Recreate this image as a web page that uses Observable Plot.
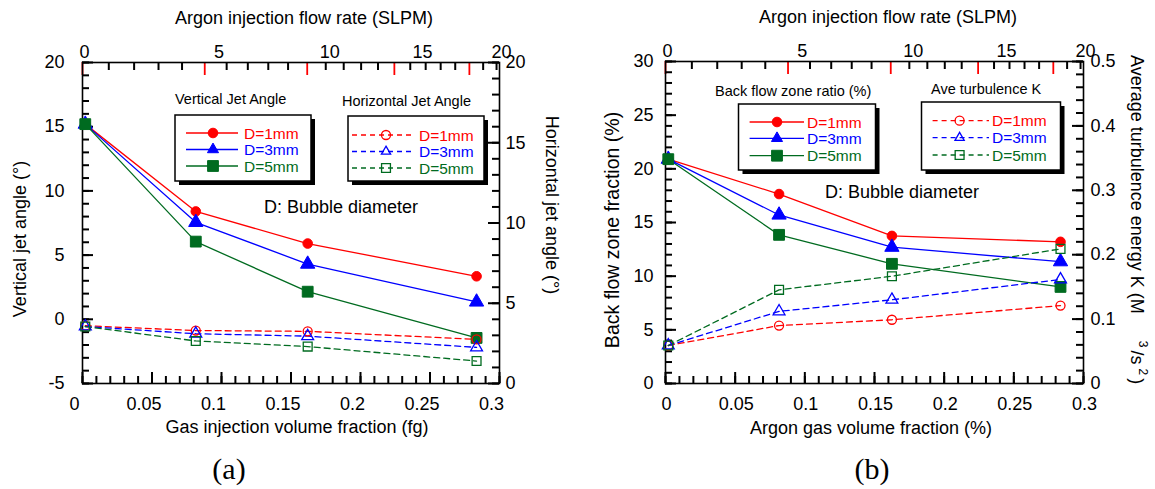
<!DOCTYPE html>
<html><head><meta charset="utf-8">
<script src="https://cdn.jsdelivr.net/npm/d3@7"></script>
<script src="https://cdn.jsdelivr.net/npm/@observablehq/plot@0.6"></script>
<style>
body{margin:0;background:#fff;width:1155px;height:489px;overflow:hidden;position:relative}
.panel{position:absolute;top:0}
svg{overflow:visible}
</style></head><body>
<div id="pa" class="panel" style="left:0px"></div>
<div id="pb" class="panel" style="left:577px"></div>
<script>
// ---------------- data ----------------
const seriesNames = ["D=1mm", "D=3mm", "D=5mm"];

// panel (a)
const fracA = [0.002, 0.0815, 0.162, 0.2835];
const vertD1 = [15.2, 8.4, 5.9, 3.35];
const vertD3 = [15.2, 7.55, 4.3, 1.35];
const vertD5 = [15.2, 6.05, 2.15, -1.45];
const horzD1 = [3.6, 3.3, 3.25, 2.75];
const horzD3 = [3.55, 3.1, 2.95, 2.25];
const horzD5 = [3.55, 2.65, 2.3, 1.4];

// panel (b)
const fracB = [0.002, 0.0815, 0.1625, 0.2835];
const backD1 = [20.9, 17.65, 13.75, 13.2];
const backD3 = [20.9, 15.7, 12.7, 11.35];
const backD5 = [20.9, 13.85, 11.15, 9.0];
const turbD1 = [0.059, 0.090, 0.099, 0.121];
const turbD3 = [0.059, 0.112, 0.130, 0.1615];
const turbD5 = [0.059, 0.1455, 0.1665, 0.209];

// tick labels
const fracTicks = [0, 0.05, 0.1, 0.15, 0.2, 0.25, 0.3];
const flowLabels = [0, 5, 10, 15, 20];
const flowRedTicks = [0, 4.5, 9, 13.5, 18];
const vertTicks = [-5, 0, 5, 10, 15, 20];
const horzTicks = [0, 5, 10, 15, 20];
const backTicks = [0, 5, 10, 15, 20, 25, 30];
const turbTicks = [0, 0.1, 0.2, 0.3, 0.4, 0.5];

// ---------------- style ----------------
const FONT = "'Liberation Sans', Arial, Helvetica, sans-serif";
const GREEN = "#006b20";
const colors = ["#ff0000", "#0000ff", GREEN];
const plotSymbols = ["circle", "triangle", "square"];
const d3Symbols = [d3.symbolCircle, d3.symbolTriangle2, d3.symbolSquare];
const rFilled = [4.8, 5.3, 6.1];
const rOpen = [4.5, 4.4, 5.0];

// top axis: argon flow rate (SLPM) -> gas volume fraction
const flowToFrac = q => q / (q + 46.67);
const flowMinor = d3.range(1, 23).filter(i => i % 5 !== 0).map(i => i * 0.9);
const xMinor = d3.range(0, 31).map(i => i / 100);

function rows(xs, ys) { return xs.map((x, i) => ({x, y: ys[i]})); }

// tick lengths given in pixels, converted to data units of the plot's scales
function axisMarks(cfg) {
  const m = [];
  const [y0, y1] = cfg.yDomain;
  const dy = (y1 - y0) / cfg.plotH;
  const dx = 0.3 / cfg.plotW;
  const tickStyle = {stroke: "black", strokeWidth: 2};
  m.push(Plot.ruleX(xMinor, {y1: y0, y2: y0 + 7 * dy, ...tickStyle}));
  m.push(Plot.ruleX(fracTicks, {y1: y0, y2: y0 + 11 * dy, ...tickStyle}));
  m.push(Plot.ruleX(flowMinor.map(flowToFrac), {y1: y1, y2: y1 - 8 * dy, ...tickStyle}));
  m.push(Plot.ruleX(flowRedTicks.map(flowToFrac), {y1: y1, y2: y1 - 13 * dy, stroke: "#ff0000", strokeWidth: 1.8}));
  m.push(Plot.ruleY(cfg.leftMinor, {x1: 0, x2: 7 * dx, ...tickStyle}));
  m.push(Plot.ruleY(cfg.leftTicks, {x1: 0, x2: 11 * dx, ...tickStyle}));
  m.push(Plot.ruleY(cfg.rightMinor.map(cfg.toLeft), {x1: 0.3, x2: 0.3 - 7 * dx, ...tickStyle}));
  m.push(Plot.ruleY(cfg.rightTicks.map(cfg.toLeft), {x1: 0.3, x2: 0.3 - 11 * dx, ...tickStyle}));
  m.push(Plot.axisX(fracTicks, {anchor: "bottom", tickSize: 0, tickPadding: 14.2, tickFormat: d => String(d), label: null, dx: cfg.bottomDx, fontSize: 18}));
  const topMap = new Map(flowLabels.map(q => [flowToFrac(q), String(q)]));
  m.push(Plot.axisX([...topMap.keys()], {anchor: "top", tickSize: 0, tickPadding: 5, tickFormat: d => topMap.get(d), label: null, dx: 2, fontSize: 18}));
  m.push(Plot.axisY(cfg.leftTicks, {anchor: "left", tickSize: 0, tickPadding: cfg.leftPad, tickFormat: d => String(d), label: null, fontSize: 18}));
  const rMap = new Map(cfg.rightTicks.map(v => [cfg.toLeft(v), String(v)]));
  m.push(Plot.axisY([...rMap.keys()], {anchor: "right", tickSize: 0, tickPadding: cfg.rightPad, tickFormat: d => rMap.get(d), label: null, fontSize: 18}));
  m.push(Plot.frame({stroke: "black", strokeWidth: 1.6}));
  return m;
}

function seriesMarks(xs, solid, dashed, toLeft) {
  const m = [];
  solid.forEach((ys, i) => {
    m.push(Plot.line(rows(xs, ys), {x: "x", y: "y", stroke: colors[i], strokeWidth: 1.3}));
  });
  dashed.forEach((ys, i) => {
    m.push(Plot.line(rows(xs, ys), {x: "x", y: d => toLeft(d.y), stroke: colors[i], strokeWidth: 1.3, strokeDasharray: "6,4"}));
  });
  solid.forEach((ys, i) => {
    m.push(Plot.dot(rows(xs, ys), {x: "x", y: "y", symbol: plotSymbols[i], r: rFilled[i], fill: colors[i], stroke: colors[i], strokeWidth: 1}));
  });
  dashed.forEach((ys, i) => {
    m.push(Plot.dot(rows(xs, ys), {x: "x", y: d => toLeft(d.y), symbol: plotSymbols[i], r: rOpen[i], fill: "none", stroke: colors[i], strokeWidth: 1.3}));
  });
  return m;
}

function addText(g, x, y, txt, opts = {}) {
  const t = g.append("text").attr("x", x).attr("y", y).text(txt)
    .attr("font-size", opts.size || 18).attr("fill", opts.fill || "black")
    .attr("text-anchor", opts.anchor || "start").attr("font-family", opts.family || FONT);
  if (opts.rotate) t.attr("transform", `rotate(${opts.rotate},${x},${y})`);
  return t;
}

function addLegend(g, L) {
  addText(g, L.titleX, L.titleY, L.title, {size: 14.5});
  const [bx, by, bw, bh] = L.box;
  g.append("rect").attr("x", bx + 4).attr("y", by + 4).attr("width", bw).attr("height", bh).attr("fill", "black");
  g.append("rect").attr("x", bx).attr("y", by).attr("width", bw).attr("height", bh).attr("fill", "white").attr("stroke", "black").attr("stroke-width", 1.5);
  seriesNames.forEach((name, i) => {
    const y = L.rows[i];
    g.append("line").attr("x1", L.line[0]).attr("x2", L.line[1]).attr("y1", y).attr("y2", y)
      .attr("stroke", colors[i]).attr("stroke-width", 1.3).attr("stroke-dasharray", L.dashed ? "5,4" : null);
    const r = L.dashed ? rOpen[i] : rFilled[i];
    g.append("path").attr("transform", `translate(${L.mark},${y})`)
      .attr("d", d3.symbol(d3Symbols[i], Math.PI * r * r)())
      .attr("fill", L.dashed ? "none" : colors[i]).attr("stroke", colors[i]).attr("stroke-width", L.dashed ? 1.3 : 1);
    addText(g, L.textX, y + 5.5, name, {size: 15.5, fill: colors[i]});
  });
}

// ---------------- panel (a) ----------------
const toLeftA = v => -5 + v * 1.25;
const cfgA = {
  bottomDx: -8, yDomain: [-5, 20], plotW: 417, plotH: 321,
  leftTicks: vertTicks, leftMinor: d3.range(-5, 21), leftPad: 18,
  rightTicks: horzTicks, rightMinor: d3.range(0, 21), rightPad: 6, toLeft: toLeftA
};
const svgA = Plot.plot({
  width: 577, height: 489,
  marginLeft: 82, marginRight: 78, marginTop: 62, marginBottom: 106,
  x: {domain: [0, 0.3]},
  y: {domain: [-5, 20]},
  style: {fontFamily: FONT, fontSize: "18px", color: "black", background: "white"},
  marks: [
    ...axisMarks(cfgA),
    ...seriesMarks(fracA, [vertD1, vertD3, vertD5], [horzD1, horzD3, horzD5], toLeftA)
  ]
});
document.getElementById("pa").appendChild(svgA);
{
  const g = d3.select(svgA).append("g");
  addText(g, 304, 24, "Argon injection flow rate (SLPM)", {anchor: "middle"});
  addText(g, 297, 433, "Gas injection volume fraction (fg)", {anchor: "middle"});
  addText(g, 26, 239, "Vertical jet angle (°)", {anchor: "middle", rotate: -90});
  addText(g, 546, 205, "Horizontal jet angle (°)", {anchor: "middle", rotate: 90});
  addText(g, 229, 479, "(a)", {anchor: "middle", size: 30, family: "'Liberation Serif', 'Times New Roman', serif"});
  addText(g, 264, 212.5, "D: Bubble diameter");
  addLegend(g, {title: "Vertical Jet Angle", titleX: 175, titleY: 104, box: [175, 115, 136, 66],
    rows: [133, 149.5, 166], line: [186, 238], mark: 213, textX: 244, dashed: false});
  addLegend(g, {title: "Horizontal Jet Angle", titleX: 342, titleY: 105.5, box: [348, 116, 136, 65],
    rows: [135, 151.5, 168], line: [352, 412], mark: 386, textX: 419, dashed: true});
}

// ---------------- panel (b) ----------------
const toLeftB = v => v * 60;
const cfgB = {
  bottomDx: 1, yDomain: [0, 30], plotW: 418, plotH: 322,
  leftTicks: backTicks, leftMinor: d3.range(0, 31), leftPad: 12,
  rightTicks: turbTicks, rightMinor: d3.range(0, 26).map(i => i / 50), rightPad: 7, toLeft: toLeftB
};
const svgB = Plot.plot({
  width: 578, height: 489,
  marginLeft: 88, marginRight: 72, marginTop: 61, marginBottom: 106,
  x: {domain: [0, 0.3]},
  y: {domain: [0, 30]},
  style: {fontFamily: FONT, fontSize: "18px", color: "black", background: "white"},
  marks: [
    ...axisMarks(cfgB),
    ...seriesMarks(fracB, [backD1, backD3, backD5], [turbD1, turbD3, turbD5], toLeftB)
  ]
});
document.getElementById("pb").appendChild(svgB);
{
  const o = 577;
  const g = d3.select(svgB).append("g");
  addText(g, 888 - o, 23, "Argon injection flow rate (SLPM)", {anchor: "middle"});
  addText(g, 871 - o, 434, "Argon gas volume fraction (%)", {anchor: "middle"});
  addText(g, 619 - o, 230, "Back flow zone fraction (%)", {anchor: "middle", rotate: -90, size: 19.5});
  const t = addText(g, 1131 - o, 55, "Average turbulence energy K (M", {rotate: 90});
  t.append("tspan").attr("dx", 27).attr("dy", -8).attr("font-size", 12).text("3");
  t.append("tspan").attr("dx", 3).attr("dy", 8).text("/s");
  t.append("tspan").attr("dx", 4).attr("dy", -8).attr("font-size", 12).text("2");
  t.append("tspan").attr("dx", 3).attr("dy", 8).text(")");
  addText(g, 872 - o, 479, "(b)", {anchor: "middle", size: 30, family: "'Liberation Serif', 'Times New Roman', serif"});
  addText(g, 825 - o, 197.5, "D: Bubble diameter");
  addLegend(g, {title: "Back flow zone ratio (%)", titleX: 715 - o, titleY: 96, box: [738.5 - o, 104, 137, 66],
    rows: [122, 138.3, 155.7], line: [749.6 - o, 804 - o], mark: 777 - o, textX: 807 - o, dashed: false});
  addLegend(g, {title: "Ave turbulence K", titleX: 931 - o, titleY: 94, box: [921.5 - o, 102, 139, 68],
    rows: [120.7, 137.7, 155], line: [932.6 - o, 989 - o], mark: 959.6 - o, textX: 992 - o, dashed: true});
}
</script>
</body></html>
